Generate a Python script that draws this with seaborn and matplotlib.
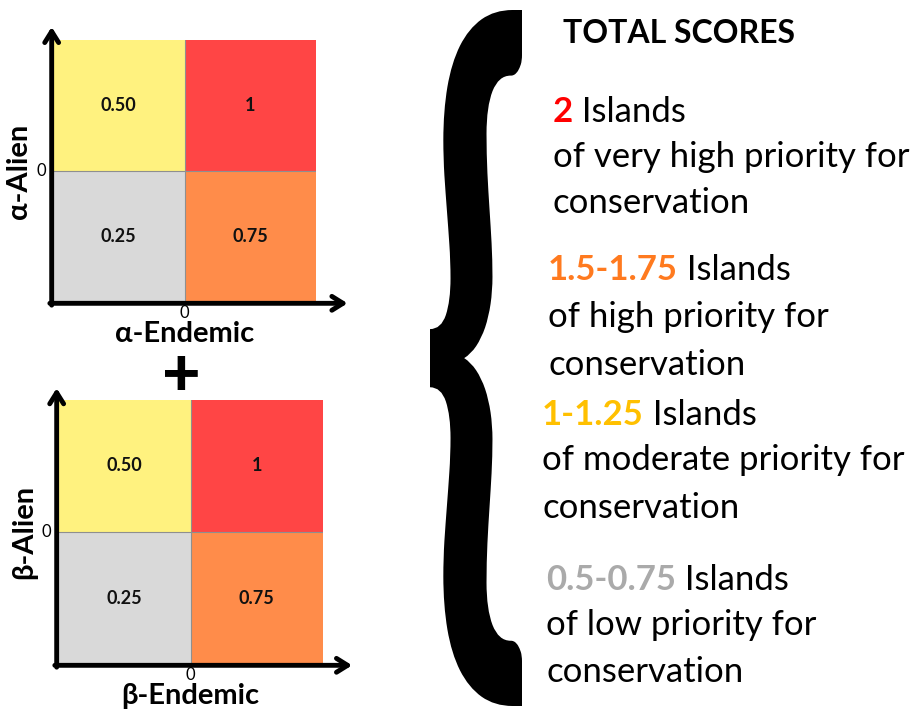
import matplotlib
matplotlib.use("Agg")
import matplotlib.pyplot as plt
import numpy as np
import seaborn as sns
from matplotlib.colors import ListedColormap
from matplotlib.font_manager import FontProperties
from matplotlib.patches import PathPatch
from matplotlib.textpath import TextPath
from matplotlib.transforms import Affine2D

# quadrant scores: rows = alien (high, low), cols = endemic (low, high)
scores = np.array([[0.50, 1.00], [0.25, 0.75]])
score_labels = np.array([["0.50", "1"], ["0.25", "0.75"]])
# colours for 0.25, 0.50, 0.75, 1
quad_colors = ["#d9d9d9", "#fff27f", "#ff8c4a", "#ff4545"]

panel_xlabels = ["α-Endemic", "β-Endemic"]
panel_ylabels = ["α-Alien", "β-Alien"]

total_ranges = ["2", "1.5-1.75", "1-1.25", "0.5-0.75"]
total_levels = ["very high", "high", "moderate", "low"]
total_colors = ["#ff0000", "#ff7a1f", "#ffc000", "#aaaaaa"]

W, H = 915, 712
FONT = ["Lato", "DejaVu Sans"]

sns.set_style("white")
plt.rcParams["font.family"] = FONT
plt.rcParams["text.color"] = "black"
plt.rcParams["axes.labelcolor"] = "black"
plt.rcParams["xtick.color"] = "black"
plt.rcParams["ytick.color"] = "black"

fig = plt.figure(figsize=(W / 100, H / 100), dpi=100)
cmap = ListedColormap(quad_colors)


def draw_panel(box, xlabel, ylabel, tip_top, tip_right):
    x0, y0, w, h = box
    ax = fig.add_axes([x0 / W, 1 - (y0 + h) / H, w / W, h / H])
    sns.heatmap(
        scores, ax=ax, cmap=cmap, vmin=0.125, vmax=1.125,
        annot=score_labels, fmt="", cbar=False,
        annot_kws=dict(fontsize=13, fontweight="bold", color="#111111"),
    )
    ax.axhline(1, color="#8f8f8f", lw=0.8)
    ax.axvline(1, color="#8f8f8f", lw=0.8)
    ax.set_xticks([1])
    ax.set_xticklabels(["0"])
    ax.set_yticks([1])
    ax.set_yticklabels(["0"], rotation=0)
    ax.tick_params(length=0, labelsize=12)
    ax.tick_params(axis="x", pad=2)
    ax.tick_params(axis="y", pad=5)
    ax.set_xlabel(xlabel, fontsize=21, fontweight="bold", labelpad=0)
    ax.set_ylabel(ylabel, fontsize=21, fontweight="bold", labelpad=3)

    arrow = dict(arrowstyle="->,head_length=0.8,head_width=0.5", lw=3.5,
                 color="black", shrinkA=0, shrinkB=0)
    ax.annotate("", xy=(-0.005, tip_top), xytext=(-0.005, -0.012),
                xycoords="axes fraction", arrowprops=arrow, annotation_clip=False)
    ax.annotate("", xy=(tip_right, -0.005), xytext=(-0.012, -0.005),
                xycoords="axes fraction", arrowprops=arrow, annotation_clip=False)
    return ax


draw_panel((53, 40, 263, 262), panel_xlabels[0], panel_ylabels[0], 1.05, 1.12)
draw_panel((58, 400, 265, 264), panel_xlabels[1], panel_ylabels[1], 1.045, 1.11)

# overlay in pixel coordinates for the brace and the legend text
ov = fig.add_axes([0, 0, 1, 1])
ov.set_xlim(0, W)
ov.set_ylim(H, 0)
ov.axis("off")

ov.text(181, 377, "+", fontsize=48, fontweight="black", ha="center", va="center")

# big curly brace, stretched from a glyph
glyph = TextPath((0, 0), "{", size=1, prop=FontProperties(family="Lato", weight="black"))
ext = glyph.get_extents()
bx0, by_top, bx1, by_bot = 430, 10, 522, 706
tr = (Affine2D().translate(-ext.x0, -ext.y0)
      .scale((bx1 - bx0) / ext.width, -(by_bot - by_top) / ext.height)
      .translate(bx0, by_bot))
ov.add_patch(PathPatch(tr.transform_path(glyph), facecolor="black", edgecolor="none"))

ov.text(563, 43, "TOTAL SCORES", fontsize=23, fontweight="bold", ha="left", va="baseline")

group_x = [553, 548, 542, 546]
group_baselines = [(122, 167, 213), (280, 327, 375), (425, 470, 518), (590, 635, 682)]
for rng, level, col, gx, (b1, b2, b3) in zip(total_ranges, total_levels, total_colors,
                                             group_x, group_baselines):
    t = ov.text(gx, b1, rng, fontsize=25, fontweight="bold", color=col,
                ha="left", va="baseline")
    ov.annotate(" Islands", xy=(1, 0), xycoords=t, fontsize=25, color="black",
                ha="left", va="bottom")
    ov.text(gx, b2, f"of {level} priority for", fontsize=25, ha="left", va="baseline")
    ov.text(gx, b3, "conservation", fontsize=25, ha="left", va="baseline")

fig.savefig("out.png", dpi=100)
